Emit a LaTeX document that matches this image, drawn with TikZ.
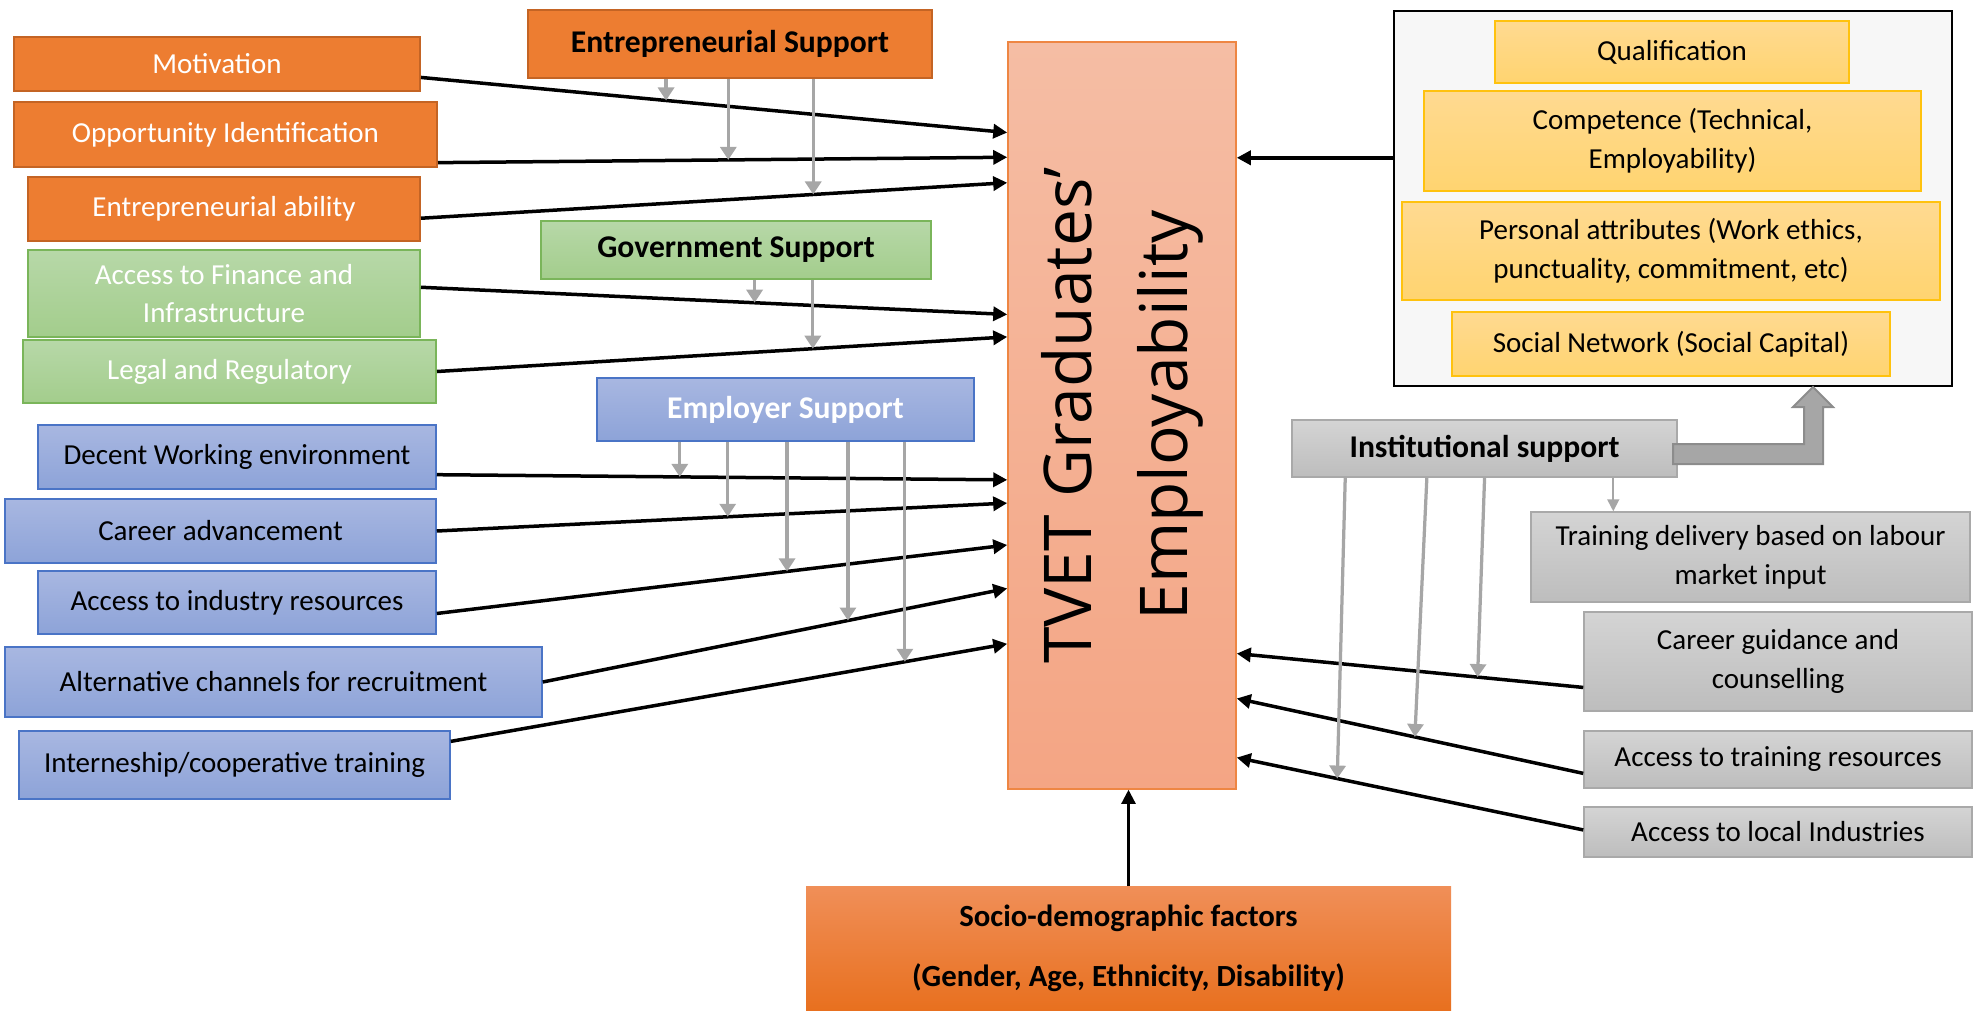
\documentclass[tikz,border=0pt]{standalone}
\usepackage{fontspec}
\setmainfont{Carlito}
\newfontfamily\tvetfont{Open Sans}
\usetikzlibrary{arrows.meta,calc,positioning}

\definecolor{orangefill}{HTML}{ED7D31}
\definecolor{orangeline}{HTML}{C46424}
\definecolor{greentop}{HTML}{B7D8A8}
\definecolor{greenbot}{HTML}{A3CD8C}
\definecolor{greenline}{HTML}{7AB55A}
\definecolor{bluetop}{HTML}{A8B7E1}
\definecolor{bluebot}{HTML}{8DA3D8}
\definecolor{blueline}{HTML}{4A74C6}
\definecolor{graytop}{HTML}{D4D4D4}
\definecolor{graybot}{HTML}{BDBDBD}
\definecolor{grayline}{HTML}{A9A9A9}
\definecolor{yellowtop}{HTML}{FFDA91}
\definecolor{yellowbot}{HTML}{FFD470}
\definecolor{yellowline}{HTML}{FFC20E}
\definecolor{tvettop}{HTML}{F5BDA4}
\definecolor{tvetbot}{HTML}{F4A584}
\definecolor{tvetline}{HTML}{EE8643}
\definecolor{sociotop}{HTML}{F08F58}
\definecolor{sociobot}{HTML}{E8701F}
\definecolor{modgray}{HTML}{A6A6A6}
\definecolor{blockline}{HTML}{8C8C8C}

\tikzstyle{box}=[rectangle,inner sep=0pt,align=center,line width=0.4mm,font=\fontsize{16.5}{22}\selectfont]
\tikzstyle{orangebox}=[box,fill=orangefill,draw=orangeline,text=white]
\tikzstyle{greenbox}=[box,top color=greentop,bottom color=greenbot,draw=greenline,text=white]
\tikzstyle{bluebox}=[box,top color=bluetop,bottom color=bluebot,draw=blueline,line width=0.3mm]
\tikzstyle{graybox}=[box,top color=graytop,bottom color=graybot,draw=grayline,line width=0.3mm]
\tikzstyle{yellowbox}=[box,top color=yellowtop,bottom color=yellowbot,draw=yellowline]
\tikzstyle{head}=[font=\fontsize{18}{22}\selectfont\bfseries]
\tikzstyle{link}=[line width=0.7mm,-{Triangle[length=2.8mm,width=2.8mm]}]
\tikzstyle{modarrow}=[draw=modgray,line width=0.65mm,-{Triangle[length=2.6mm,width=3.2mm]}]
\tikzset{dims/.style 2 args={minimum width=#1*0.2mm,minimum height=#2*0.2mm}}

\begin{document}
\begin{tikzpicture}[x=0.2mm,y=-0.2mm]
\clip (0,0) rectangle (1977,1010);
        % entrepreneurial factors
        \node[orangebox,dims={406}{54}] (mot) at (217,64) {Motivation};
        \node[orangebox,dims={423}{65}] (opp) at (225.5,134.5) {Opportunity Identification};
        \node[orangebox,dims={392}{64}] (ent) at (224,209) {Entrepreneurial ability};
        \node[orangebox,head,text=black,dims={404}{68}] (es) at (730,44) {Entrepreneurial Support};
        % government factors
        \node[greenbox,dims={392}{87}] (fin) at (224,293.5) {Access to Finance and\\Infrastructure};
        \node[greenbox,dims={413}{63}] (legal) at (229.5,371.5) {Legal and Regulatory};
        \node[greenbox,head,text=black,dims={390}{58}] (gs) at (736,250) {Government Support};
        % employer factors
        \node[bluebox,head,text=white,dims={377}{63}] (emp) at (785.5,409.5) {Employer Support};
        \node[bluebox,dims={398}{64}] (decent) at (237,457) {Decent Working environment};
        \node[bluebox,dims={431}{64}] (career) at (220.5,531) {Career advancement};
        \node[bluebox,dims={398}{63}] (ind) at (237,602.5) {Access to industry resources};
        \node[bluebox,dims={537}{70}] (alt) at (273.5,682) {Alternative channels for recruitment};
        \node[bluebox,dims={431}{68}] (intern) at (234.5,765) {Interneship/cooperative training};
        % outcome
        \node[box,top color=tvettop,bottom color=tvetbot,draw=tvetline,line width=0.3mm,dims={228}{747}] (tvet) at (1122,415.5) {};
        \node[rotate=90,align=center,font=\tvetfont\fontsize{37.5}{54.6}\selectfont] (tvettext) at (tvet.center) {TVET Graduates’\\Employability};
        % employability attributes
        \node[box,fill=black!3,draw=black,dims={558}{375}] (big) at (1673,198.5) {};
        \node[yellowbox,dims={354}{62}] (qual) at (1672,52) {Qualification};
        \node[yellowbox,dims={497}{100}] (comp) at (1672.5,141) {Competence (Technical,\\Employability)};
        \node[yellowbox,dims={538}{98}] (pers) at (1671,251) {Personal attributes (Work ethics,\\punctuality, commitment, etc)};
        \node[yellowbox,dims={438}{64}] (soc) at (1671,344) {Social Network (Social Capital)};
        % institutional factors
        \node[graybox,head,dims={385}{57}] (inst) at (1484.5,448.5) {Institutional support};
        \node[graybox,dims={439}{90}] (deliv) at (1750.5,557) {Training delivery based on labour\\market input};
        \node[graybox,dims={388}{99}] (guid) at (1778,661.5) {Career guidance and\\counselling};
        \node[graybox,dims={388}{57}] (tres) at (1778,759.5) {Access to training resources};
        \node[graybox,dims={388}{50}] (local) at (1778,832) {Access to local Industries};
        \node[box,top color=sociotop,bottom color=sociobot,line width=0pt,font=\fontsize{17.5}{34}\selectfont\bfseries,dims={645}{124}] (socio) at (1128.5,948) {Socio-demographic factors\\(Gender, Age, Ethnicity, Disability)};

        % direct effects
        \foreach \src/\a/\f/\p in {mot/0.74/0.122/0.418, opp/0.92/0.155/0.51, ent/0.64/0.189/0.669,
            fin/0.43/0.365/0.569, legal/0.5/0.395/0.659, decent/0.77/0.586/0.426, career/0.5/0.617/0.51,
            ind/0.67/0.673/0.614, alt/0.5/0.731/0.657, intern/0.16/0.805/0.816}
          \draw[link] ($(\src.north east)!\a!(\src.south east)$) -- coordinate[pos=\p] (on\src) ($(tvet.north west)!\f!(tvet.south west)$);
        \foreach \src/\a/\f/\p in {guid/0.758/0.818/0.305, tres/0.737/0.878/0.486, local/0.46/0.957/0.71}
          \draw[link] ($(\src.north west)!\a!(\src.south west)$) -- coordinate[pos=\p] (on\src) ($(tvet.north east)!\f!(tvet.south east)$);
        \draw[link] ($(big.north west)!0.392!(big.south west)$) coordinate (bigin) -- (tvet.east |- bigin);
        \draw[link,line width=0.45mm] (socio.north) -- (socio.north |- tvet.south);

        % moderating effects
        \foreach \t in {mot, opp, ent}
          \draw[modarrow] (es.south -| on\t) -- (on\t);
        \foreach \t in {fin, legal}
          \draw[modarrow] (gs.south -| on\t) -- (on\t);
        \foreach \t in {decent, career, ind, alt, intern}
          \draw[modarrow] (emp.south -| on\t) -- (on\t);
        \foreach \t/\s in {guid/1.4mm, tres/2.4mm, local/1.6mm}
          \draw[modarrow] ([xshift=\s]inst.south -| on\t) -- (on\t);
        \coordinate (dtop) at ([xshift=16.6mm]deliv.north west);
        \draw[modarrow,line width=0.35mm,-{Triangle[length=2.4mm,width=2.4mm]}] (inst.south -| dtop) -- (dtop);

        % block arrow up to the attributes
        \draw[fill=modgray,draw=blockline,line width=0.4mm] (1673,444) -- (1804,444) -- (1804,407) -- (1793,407)
          -- (1813,387) -- (1833,407) -- (1823,407) -- (1823,464) -- (1673,464) -- cycle;
      \end{tikzpicture}
\end{document}
